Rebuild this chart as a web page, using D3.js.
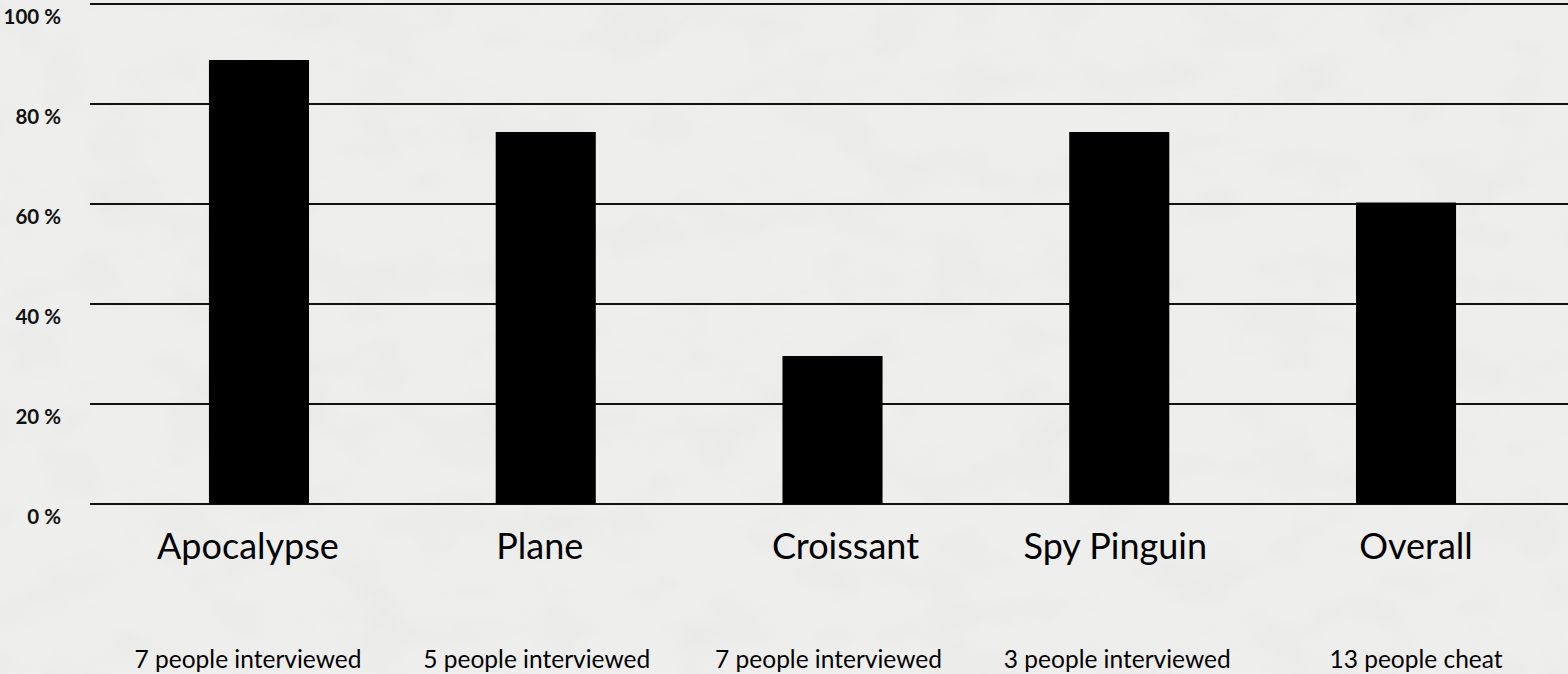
<!DOCTYPE html>
<head>
<meta charset="utf-8">
<title>Cheating survey</title>
<script src="https://cdn.jsdelivr.net/npm/d3@7"></script>
<style>
body { margin: 0; background: #ededeb; overflow: hidden; }
</style>
</head>
<body>
<script>
// data
var categories = ["Apocalypse", "Plane", "Croissant", "Spy Pinguin", "Overall"];
var percent = [88.8, 74.4, 29.6, 74.4, 60.3];
var notes = ["7 people interviewed", "5 people interviewed", "7 people interviewed", "3 people interviewed", "13 people cheat"];
var yTicks = [0, 20, 40, 60, 80, 100];

var width = 1568, height = 674;
// small nudges so the text sits like the slide's text boxes
var labelDx = [-11, -6, 13, -4, 10];
var noteDx = [-11, -9, -4, -2, 10];

var svg = d3.select("body").append("svg")
  .attr("width", width)
  .attr("height", height)
  .attr("xmlns", "http://www.w3.org/2000/svg");

// paper texture
var defs = svg.append("defs");
var f = defs.append("filter").attr("id", "paper").attr("x", 0).attr("y", 0).attr("width", "100%").attr("height", "100%");
f.append("feTurbulence").attr("type", "fractalNoise").attr("baseFrequency", "0.012 0.02").attr("numOctaves", 4).attr("seed", 7).attr("result", "n");
f.append("feColorMatrix").attr("type", "matrix")
  .attr("values", "0 0 0 0 0.55  0 0 0 0 0.55  0 0 0 0 0.54  0 0 0 -1.1 0.62");
svg.append("rect").attr("width", width).attr("height", height).attr("fill", "#eeeeec");
svg.append("rect").attr("width", width).attr("height", height).attr("filter", "url(#paper)").attr("opacity", 0.2);

var x = d3.scaleBand()
  .domain(categories)
  .range([115.6, 1549.4])
  .paddingInner(0.651)
  .paddingOuter(0.3255);

var y = d3.scaleLinear().domain([0, 100]).range([504, 4]);

// grid lines
svg.selectAll("line.grid")
  .data(yTicks).enter().append("line")
  .attr("class", "grid")
  .attr("x1", 90).attr("x2", width)
  .attr("y1", function(d) {return y(d);})
  .attr("y2", function(d) {return y(d);})
  .attr("stroke", "#111")
  .attr("stroke-width", 2);

// tick labels
svg.selectAll("text.tick")
  .data(yTicks).enter().append("text")
  .attr("class", "tick")
  .attr("x", 61)
  .attr("y", function(d) {return y(d) + 19.5;})
  .attr("text-anchor", "end")
  .style("font-family", "Lato, sans-serif")
  .style("font-weight", "bold")
  .style("font-size", "20.5px")
  .attr("fill", "#111")
  .text(function(d) {return d + " %";});

// bars
svg.selectAll("rect.bar")
  .data(percent).enter().append("rect")
  .attr("class", "bar")
  .attr("x", function(d, i) {return x(categories[i]);})
  .attr("width", x.bandwidth())
  .attr("y", function(d) {return y(d);})
  .attr("height", function(d) {return y(0) - y(d);})
  .attr("fill", "#000");

// category names
svg.selectAll("text.cat")
  .data(categories).enter().append("text")
  .attr("class", "cat")
  .attr("x", function(d, i) {return x(d) + x.bandwidth() / 2 + labelDx[i];})
  .attr("y", 559)
  .attr("text-anchor", "middle")
  .style("font-family", "Lato, sans-serif")
  .style("font-size", "36px")
  .attr("fill", "#000")
  .text(function(d) {return d;});

// notes under the names
svg.selectAll("text.note")
  .data(notes).enter().append("text")
  .attr("class", "note")
  .attr("x", function(d, i) {return x(categories[i]) + x.bandwidth() / 2 + noteDx[i];})
  .attr("y", 668)
  .attr("text-anchor", "middle")
  .style("font-family", "Lato, sans-serif")
  .style("font-size", "24.5px")
  .attr("fill", "#000")
  .text(function(d) {return d;});
</script>
</body>
